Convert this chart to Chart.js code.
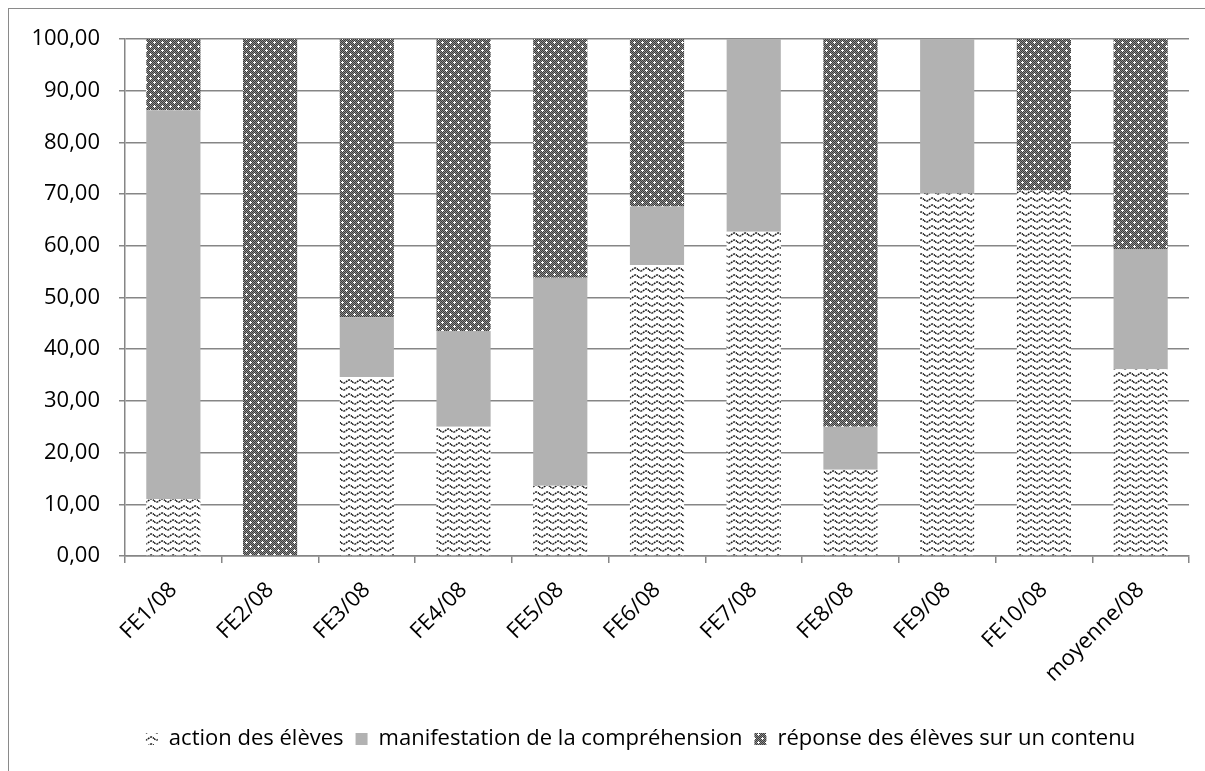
<!DOCTYPE html>
<html>
<head>
<meta charset="utf-8">
<script src="https://cdn.jsdelivr.net/npm/chart.js@4"></script>
<style>
  html, body { margin: 0; padding: 0; background: #fff; }
  #wrap { position: relative; width: 1205px; height: 771px; overflow: hidden; }
  #frame { position: absolute; left: 8px; top: 8px; width: 1210px; height: 780px; border: 1.5px solid #8a8a8a; box-sizing: border-box; }
  canvas { position: absolute; left: 0; top: 0; }
</style>
</head>
<body>
<div id="wrap">
  <div id="frame"></div>
  <canvas id="chart" width="1205" height="771"></canvas>
</div>
<script>
// catégories et séries
const categories = ['FE1/08', 'FE2/08', 'FE3/08', 'FE4/08', 'FE5/08', 'FE6/08', 'FE7/08', 'FE8/08', 'FE9/08', 'FE10/08', 'moyenne/08'];
const actionEleves = [11.0, 0, 34.6, 25.0, 13.6, 56.3, 62.7, 16.7, 70.1, 70.7, 36.1];
const manifestation = [75.2, 0, 11.6, 18.5, 40.2, 11.3, 37.3, 8.3, 29.9, 0, 23.3];
const reponseContenu = [13.8, 100, 53.8, 56.5, 46.2, 32.4, 0, 75.0, 0, 29.3, 40.6];
const seriesNames = ['action des élèves', 'manifestation de la compréhension', 'réponse des élèves sur un contenu'];

// motif vagues (action des élèves)
function wavePattern(ctx) {
    const w = 11, h = 7;
    const c = document.createElement('canvas');
    c.width = w; c.height = h;
    const p = c.getContext('2d');
    p.fillStyle = '#fff';
    p.fillRect(0, 0, w, h);
    p.strokeStyle = '#1a1a1a';
    p.lineWidth = 1.5;
    p.setLineDash([2, 0.8]);
    p.beginPath();
    for (let x = 0; x <= w; x += 0.5) {
        const y = 3.5 + 1.5 * Math.sin(x / w * Math.PI * 2);
        if (x === 0) p.moveTo(x, y); else p.lineTo(x, y);
    }
    p.stroke();
    return ctx.createPattern(c, 'repeat');
}

// motif damier + croix blanches (réponse)
function dotPattern(ctx) {
    const c = document.createElement('canvas');
    c.width = 8; c.height = 8;
    const p = c.getContext('2d');
    for (let y = 0; y < 8; y++) {
        for (let x = 0; x < 8; x++) {
            p.fillStyle = (x + y) % 2 === 0 ? '#3c3c3c' : '#8c8c8c';
            p.fillRect(x, y, 1, 1);
        }
    }
    p.fillStyle = '#fff';
    [[2, 2], [6, 6]].forEach(([x, y]) => {
        p.fillRect(x, y - 1, 1, 3);
        p.fillRect(x - 1, y, 3, 1);
    });
    return ctx.createPattern(c, 'repeat');
}

// décaler la légende vers la droite (centrée sur le cadre)
const shiftLegend = {
    id: 'shiftLegend',
    afterLayout(chart) {
        chart.legend.left += 46;
        chart.legend.right += 46;
    }
};

const ctx = document.getElementById('chart').getContext('2d');
const axisColor = '#868686';

new Chart(ctx, {
    type: 'bar',
    data: {
        labels: categories,
        datasets: [
            { label: seriesNames[0], data: actionEleves, backgroundColor: wavePattern(ctx) },
            { label: seriesNames[1], data: manifestation, backgroundColor: '#b2b2b2' },
            { label: seriesNames[2], data: reponseContenu, backgroundColor: dotPattern(ctx) }
        ]
    },
    plugins: [shiftLegend],
    options: {
        responsive: false,
        animation: false,
        layout: { padding: { left: 0, right: 16, top: 39, bottom: 11 } },
        datasets: { bar: { categoryPercentage: 1, barPercentage: 0.56 } },
        plugins: {
            tooltip: { enabled: false },
            legend: {
                position: 'bottom',
                labels: {
                    color: '#000',
                    boxWidth: 12,
                    boxHeight: 12,
                    padding: 12,
                    font: { family: 'Open Sans', size: 22 }
                }
            }
        },
        scales: {
            x: {
                stacked: true,
                offset: true,
                afterFit: (scale) => { scale.height = 160; },
                grid: { display: true, drawOnChartArea: false, offset: true, tickLength: 7, color: axisColor, lineWidth: 1.5 },
                border: { color: axisColor, width: 1.5 },
                ticks: {
                    color: '#000',
                    maxRotation: 45,
                    minRotation: 45,
                    padding: 14,
                    font: { family: 'Open Sans', size: 22 }
                }
            },
            y: {
                stacked: true,
                min: 0,
                max: 100,
                afterFit: (scale) => { scale.width = 125; },
                grid: { color: axisColor, lineWidth: 1.5, tickLength: 6 },
                border: { color: axisColor, width: 1.5 },
                ticks: {
                    stepSize: 10,
                    color: '#000',
                    padding: 19,
                    font: { family: 'Open Sans', size: 22 },
                    callback: (v) => v.toFixed(2).replace('.', ',')
                }
            }
        }
    }
});
</script>
</body>
</html>
